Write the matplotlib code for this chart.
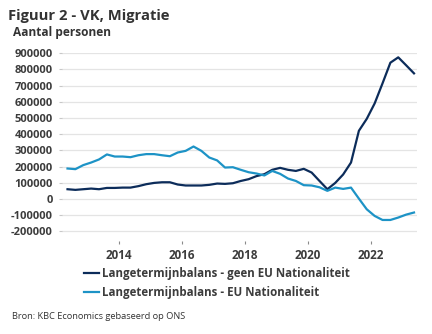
import numpy as np
import pandas as pd
import matplotlib
matplotlib.use("Agg")
import matplotlib.pyplot as plt
from matplotlib.ticker import FuncFormatter

NAVY, CYAN = "#0c2c5a", "#1d93c6"
INK, GRID = "#3c3c3c", "#e4e4e4"
plt.rcParams.update({"font.family": ["Open Sans", "DejaVu Sans"],
                     "axes.unicode_minus": False})

# quarterly, long-term net migration (year ending), 2012Q2 - 2023Q2
quarters = pd.period_range("2012Q2", "2023Q2", freq="Q")
non_eu = [60, 56, 60, 64, 60, 68, 68, 70, 70, 79, 91, 99, 103, 103, 89,
          83, 83, 83, 87, 95, 93, 97, 111, 122, 141, 153, 180, 192, 180,
          173, 186, 163, 111, 60, 99, 151, 225, 421, 495, 590, 714, 842,
          875, 826, 776]
eu = [188, 184, 209, 225, 244, 275, 262, 262, 258, 270, 277, 277, 270,
      264, 287, 297, 324, 297, 256, 238, 194, 196, 180, 165, 157, 145,
      173, 155, 126, 111, 85, 83, 72, 50, 70, 62, 70, 2, -64, -105,
      -130, -130, -115, -97, -84]
x = np.array([q.year + (q.quarter - 1) / 4 + 0.125 for q in quarters])
non_eu = np.array(non_eu) * 1000
eu = np.array(eu) * 1000

fig = plt.figure(figsize=(4.32, 3.34), dpi=100)
ax = fig.add_axes([62 / 432, 1 - 241 / 334, 355 / 432, (241 - 53.3) / 334])
ax.plot(x, non_eu, color=NAVY, lw=1.6, solid_joinstyle="round",
        label="Langetermijnbalans - geen EU Nationaliteit")
ax.plot(x, eu, color=CYAN, lw=1.6, solid_joinstyle="round",
        label="Langetermijnbalans - EU Nationaliteit")

ax.set_xlim(2012.2, 2023.47)
ax.set_ylim(-260000, 900000)
ax.set_yticks(np.arange(-200000, 900001, 100000))
ax.yaxis.set_major_formatter(FuncFormatter(lambda v, _: f"{int(v)}"))
ax.set_xticks([2014, 2016, 2018, 2020, 2022])
ax.grid(axis="y", color=GRID, lw=0.9)
ax.set_axisbelow(True)
for s in ax.spines.values():
    s.set_visible(False)
ax.tick_params(axis="y", length=2.5, width=0.8, color="#c8c8c8", pad=4,
               labelsize=8.0, labelcolor=INK)
ax.tick_params(axis="x", length=2.5, width=0.8, color="#8a8a8a", pad=3,
               labelsize=8.4, labelcolor=INK)
for lab in ax.get_xticklabels() + ax.get_yticklabels():
    lab.set_fontweight("bold")

fig.text(8 / 432, 1 - 20 / 334, "Figuur 2 - VK, Migratie", fontsize=10.6,
         fontweight="bold", color="#333333", va="baseline")
fig.text(13 / 432, 1 - 36 / 334, "Aantal personen", fontsize=8.6,
         fontweight="bold", color="#333333", va="baseline")
fig.legend(loc="upper left", bbox_to_anchor=(84 / 432, 1 - 267 / 334),
           frameon=False, handlelength=1.3, handletextpad=0.3,
           labelspacing=0.55, borderaxespad=0, borderpad=0,
           prop={"weight": "bold", "size": 8.3})
for t in fig.legends[0].get_texts():
    t.set_color(INK)
fig.text(12 / 432, 1 - 319 / 334, "Bron: KBC Economics gebaseerd op ONS",
         fontsize=6.7, color="#333333", va="baseline")

fig.savefig("out.png", dpi=100)
